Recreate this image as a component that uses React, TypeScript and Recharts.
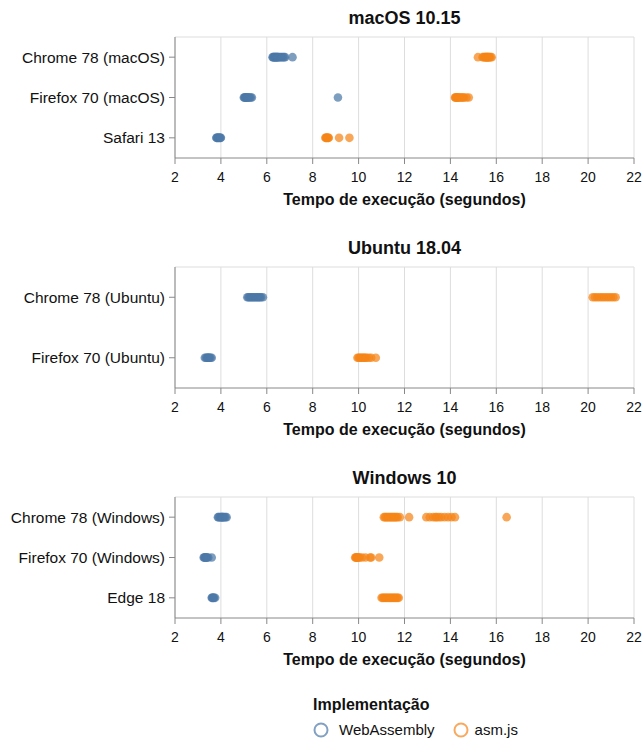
import { ScatterChart, Scatter, XAxis, YAxis, CartesianGrid, ReferenceLine } from 'recharts'

const WASM_COLOR = '#4c78a8'
const ASM_COLOR = '#f58518'
const FONT = '"Liberation Sans", Arial, Helvetica, sans-serif'
const X_TICKS = [2, 4, 6, 8, 10, 12, 14, 16, 18, 20, 22]
const X_TITLE = 'Tempo de execução (segundos)'

// macOS 10.15
const MACOS_BROWSERS = ['Chrome 78 (macOS)', 'Firefox 70 (macOS)', 'Safari 13']
const MACOS_CHROME_WASM = [6.25, 6.28, 6.3, 6.33, 6.35, 6.38, 6.4, 6.42, 6.45, 6.48, 6.5, 6.55, 6.6, 6.65, 6.7, 6.75, 6.8, 7.12]
const MACOS_CHROME_ASM = [15.2, 15.4, 15.45, 15.5, 15.52, 15.55, 15.58, 15.6, 15.62, 15.65, 15.68, 15.7, 15.75, 15.8]
const MACOS_FIREFOX_WASM = [5.0, 5.03, 5.05, 5.08, 5.1, 5.12, 5.15, 5.18, 5.2, 5.25, 5.3, 5.35, 9.1]
const MACOS_FIREFOX_ASM = [14.2, 14.22, 14.25, 14.28, 14.3, 14.33, 14.35, 14.4, 14.45, 14.5, 14.55, 14.6, 14.7, 14.8]
const SAFARI_WASM = [3.8, 3.82, 3.85, 3.87, 3.9, 3.92, 3.95, 3.98, 4.0]
const SAFARI_ASM = [8.55, 8.58, 8.6, 8.62, 8.65, 8.68, 8.7, 9.15, 9.6]

// Ubuntu 18.04
const UBUNTU_BROWSERS = ['Chrome 78 (Ubuntu)', 'Firefox 70 (Ubuntu)']
const UBUNTU_CHROME_WASM = [5.15, 5.2, 5.25, 5.3, 5.35, 5.4, 5.45, 5.5, 5.55, 5.6, 5.65, 5.7, 5.75, 5.83]
const UBUNTU_CHROME_ASM = [20.2, 20.3, 20.4, 20.5, 20.6, 20.7, 20.8, 20.9, 21.0, 21.1, 21.2]
const UBUNTU_FIREFOX_WASM = [3.3, 3.35, 3.4, 3.42, 3.45, 3.48, 3.5, 3.55, 3.6]
const UBUNTU_FIREFOX_ASM = [9.95, 10.0, 10.05, 10.1, 10.15, 10.2, 10.25, 10.3, 10.35, 10.45, 10.55, 10.75]

// Windows 10
const WINDOWS_BROWSERS = ['Chrome 78 (Windows)', 'Firefox 70 (Windows)', 'Edge 18']
const WINDOWS_CHROME_WASM = [3.87, 3.9, 3.95, 4.0, 4.02, 4.05, 4.08, 4.1, 4.15, 4.2, 4.25]
const WINDOWS_CHROME_ASM = [11.1, 11.15, 11.2, 11.25, 11.3, 11.35, 11.4, 11.45, 11.5, 11.55, 11.6, 11.65, 11.7, 11.8, 12.2, 12.95, 13.1, 13.25, 13.35, 13.4, 13.5, 13.6, 13.75, 13.9, 14.05, 14.2, 16.45]
const WINDOWS_FIREFOX_WASM = [3.25, 3.28, 3.3, 3.32, 3.35, 3.38, 3.4, 3.45, 3.6]
const WINDOWS_FIREFOX_ASM = [9.85, 9.88, 9.9, 9.92, 9.95, 9.98, 10.0, 10.05, 10.15, 10.3, 10.5, 10.55, 10.9]
const EDGE_WASM = [3.6, 3.62, 3.65, 3.68, 3.7, 3.75]
const EDGE_ASM = [11.0, 11.05, 11.1, 11.15, 11.2, 11.25, 11.3, 11.35, 11.4, 11.45, 11.5, 11.55, 11.6, 11.65, 11.7, 11.75]

const toPoints = (rows: number[][]) =>
  rows.flatMap((vals, row) => vals.map((t) => ({ t, row })))

const dot = (color: string) => (p: any) =>
  <circle cx={p.cx} cy={p.cy} r={4.3} fill={color} fillOpacity={0.72} />

function Panel({ top, title, browsers, wasm, asm }: {
  top: number; title: string; browsers: string[]; wasm: number[][]; asm: number[][]
}) {
  const n = browsers.length
  const rows = browsers.map((_, i) => i)
  return (
    <div style={{ position: 'absolute', left: 0, top, width: 644, height: 230 }}>
      <div style={{ position: 'absolute', left: 175, width: 459, top: 6, textAlign: 'center', fontWeight: 'bold', fontSize: 18, lineHeight: '24px' }}>
        {title}
      </div>
      <ScatterChart width={644} height={230} margin={{ top: 37, right: 10, bottom: 42, left: 5 }}>
        <CartesianGrid horizontal={false} stroke="#ddd" />
        <ReferenceLine y={-0.5} stroke="#ddd" />
        <XAxis
          type="number"
          dataKey="t"
          domain={[2, 22]}
          ticks={X_TICKS}
          interval={0}
          height={30}
          stroke="#888"
          tickSize={6}
          tickMargin={8}
          tick={{ fontSize: 14, fill: '#111' }}
        />
        <YAxis
          type="number"
          dataKey="row"
          domain={[-0.5, n - 0.5]}
          reversed
          ticks={rows}
          interval={0}
          tickFormatter={(v: number) => browsers[v] ?? ''}
          width={170}
          stroke="#888"
          tickSize={6}
          tickMargin={4}
          tick={{ fontSize: 15.5, fill: '#111' }}
        />
        <Scatter name="WebAssembly" data={toPoints(wasm)} shape={dot(WASM_COLOR)} isAnimationActive={false} />
        <Scatter name="asm.js" data={toPoints(asm)} shape={dot(ASM_COLOR)} isAnimationActive={false} />
      </ScatterChart>
      <div style={{ position: 'absolute', left: 175, width: 459, top: 189, textAlign: 'center', fontWeight: 'bold', fontSize: 16, lineHeight: '22px' }}>
        {X_TITLE}
      </div>
    </div>
  )
}

export default function App() {
  return (
    <div style={{ position: 'absolute', left: 0, top: 0, width: 644, height: 740, background: '#fff', fontFamily: FONT, color: '#111' }}>
      <Panel
        top={0}
        title="macOS 10.15"
        browsers={MACOS_BROWSERS}
        wasm={[MACOS_CHROME_WASM, MACOS_FIREFOX_WASM, SAFARI_WASM]}
        asm={[MACOS_CHROME_ASM, MACOS_FIREFOX_ASM, SAFARI_ASM]}
      />
      <Panel
        top={230}
        title="Ubuntu 18.04"
        browsers={UBUNTU_BROWSERS}
        wasm={[UBUNTU_CHROME_WASM, UBUNTU_FIREFOX_WASM]}
        asm={[UBUNTU_CHROME_ASM, UBUNTU_FIREFOX_ASM]}
      />
      <Panel
        top={460}
        title="Windows 10"
        browsers={WINDOWS_BROWSERS}
        wasm={[WINDOWS_CHROME_WASM, WINDOWS_FIREFOX_WASM, EDGE_WASM]}
        asm={[WINDOWS_CHROME_ASM, WINDOWS_FIREFOX_ASM, EDGE_ASM]}
      />
      <div style={{ position: 'absolute', left: 313, top: 694, fontWeight: 'bold', fontSize: 16, lineHeight: '22px' }}>
        Implementação
      </div>
      <div style={{ position: 'absolute', left: 313, top: 719, display: 'flex', alignItems: 'center', fontSize: 15, lineHeight: '22px' }}>
        <svg width={18} height={18} style={{ marginRight: 8 }}>
          <circle cx={8} cy={9} r={6.5} fill="none" stroke={WASM_COLOR} strokeOpacity={0.7} strokeWidth={2} />
        </svg>
        <span>WebAssembly</span>
        <svg width={18} height={18} style={{ marginLeft: 17, marginRight: 5 }}>
          <circle cx={9} cy={9} r={6.5} fill="none" stroke={ASM_COLOR} strokeOpacity={0.7} strokeWidth={2} />
        </svg>
        <span>asm.js</span>
      </div>
    </div>
  )
}
